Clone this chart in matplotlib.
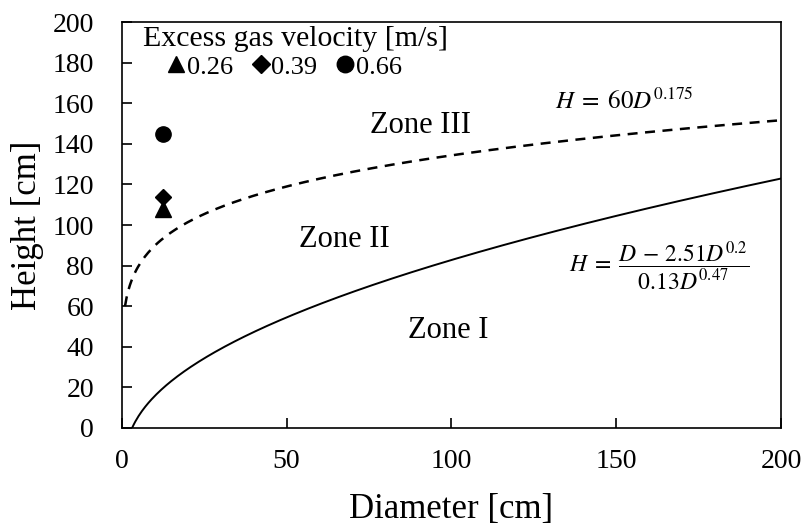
import numpy as np
import matplotlib.pyplot as plt

# measured bed heights at one column diameter, per excess gas velocity
diameter_meas = [12.5, 12.5, 12.5]
height_meas = [108, 114, 145]
velocities = ['0.26', '0.39', '0.66']
markers = ['^', 'D', 'o']
marker_sizes = [11, 8.5, 11]

# correlation constants
A_UPPER, B_UPPER = 60, 0.175            # H = 60 D^0.175
C1, P1, C2, P2 = 2.51, 0.2, 0.13, 0.47  # H = (D - 2.51 D^0.2) / (0.13 D^0.47)

plt.rcParams['font.family'] = ['Liberation Serif', 'DejaVu Serif']
plt.rcParams['mathtext.fontset'] = 'stix'

fig = plt.figure(figsize=(8.06, 5.27), dpi=100)
ax = fig.add_axes([0.151, 0.188, 0.818, 0.770])

d_up = np.linspace(1, 200, 400)
ax.plot(d_up, A_UPPER * d_up ** B_UPPER, 'k--', lw=1.8, dashes=(4, 3))

d_low = np.linspace(C1 ** (1 / (1 - P1)), 200, 400)
ax.plot(d_low, (d_low - C1 * d_low ** P1) / (C2 * d_low ** P2), 'k-', lw=1.4)

for d, h, v, m, s in zip(diameter_meas, height_meas, velocities, markers, marker_sizes):
    ax.plot(d, h, ls='none', marker=m, ms=s, color='k', label=v)

# legend title drawn as plain text so the marker row can sit indented below it
ax.text(0.032, 0.958, 'Excess gas velocity [m/s]', transform=ax.transAxes,
        fontsize=21.5, ha='left', va='center')
leg = ax.legend(ncol=3, frameon=False, loc='center left',
                bbox_to_anchor=(0.071, 0.89), fontsize=19,
                handlelength=0.6, handletextpad=0.1, columnspacing=0.75,
                borderaxespad=0.0, borderpad=0.0, markerscale=1.08)

ax.text(90.5, 149, 'Zone III', fontsize=22, ha='center', va='center')
ax.text(67.5, 93, 'Zone II', fontsize=22, ha='center', va='center')
ax.text(99, 48, 'Zone I', fontsize=22, ha='center', va='center')
ax.text(152.5, 161, r'$H\;=\;60D^{0.175}$', fontsize=18, ha='center', va='center')
ax.text(163, 80, r'$H\;=\;\dfrac{D\,-\,2.51D^{0.2}}{0.13D^{0.47}}$', fontsize=17,
        ha='center', va='center')

ax.set_xlim(0, 200)
ax.set_ylim(0, 200)
ax.set_xticks(np.arange(0, 201, 50))
ax.set_yticks(np.arange(0, 201, 20))
ax.tick_params(direction='in', labelsize=20, length=7, width=1.2)
ax.tick_params(axis='x', pad=15)
ax.tick_params(axis='y', pad=20)
for sp in ax.spines.values():
    sp.set_linewidth(1.2)

ax.set_xlabel('Diameter [cm]', fontsize=25, labelpad=14)
ax.set_ylabel('Height [cm]', fontsize=25, labelpad=6)

fig.savefig('out.png', dpi=100)
